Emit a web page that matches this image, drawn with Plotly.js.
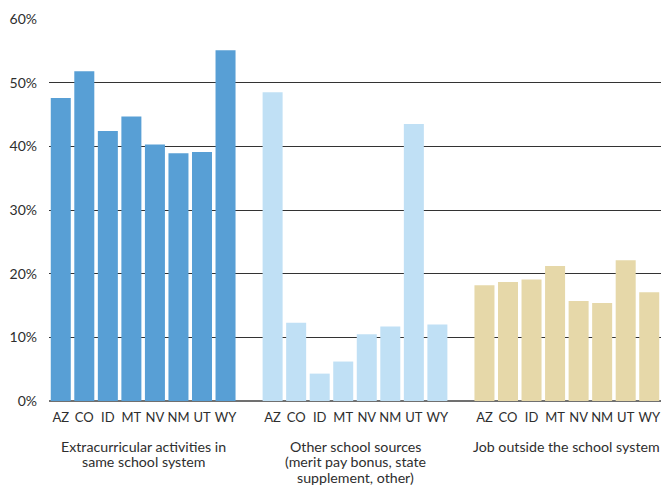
<!DOCTYPE html>
<html>
<head>
<meta charset="utf-8">
<script src="https://cdn.plot.ly/plotly-3.0.1.min.js"></script>
<style>html,body{margin:0;padding:0;background:#fff;}#chart{width:666px;height:485px;}</style>
</head>
<body>
<div id="chart"></div>
<script>
const states = ['AZ', 'CO', 'ID', 'MT', 'NV', 'NM', 'UT', 'WY'];
const groupLabels = [
  'Extracurricular activities in<br>same school system',
  'Other school sources<br>(merit pay bonus, state<br>supplement, other)',
  'Job outside the school system'
];
const extracurricular = [47.6, 51.8, 42.4, 44.7, 40.3, 38.9, 39.1, 55.1];
const otherSchool = [48.5, 12.3, 4.3, 6.2, 10.5, 11.7, 43.5, 12.0];
const outsideJob = [18.2, 18.7, 19.1, 21.2, 15.7, 15.4, 22.1, 17.1];
const groupColors = ['#589fd5', '#c0e0f5', '#e6d8a9'];
const yTicks = [0, 10, 20, 30, 40, 50, 60];
const yTickText = yTicks.map(v => v + '%');

const series = [extracurricular, otherSchool, outsideJob];
const slot = (g, i) => g * (states.length + 1) + i;

const traces = series.map((vals, g) => ({
  type: 'bar',
  x: states.map((s, i) => slot(g, i)),
  y: vals,
  marker: { color: groupColors[g] },
  hoverinfo: 'skip',
  showlegend: false
}));

const tickvals = [], ticktext = [];
series.forEach((vals, g) => states.forEach((s, i) => { tickvals.push(slot(g, i)); ticktext.push(s); }));

const font = "Lato, 'Open Sans', sans-serif";
const annotations = [];
groupLabels.forEach((t, g) => {
  t.split('<br>').forEach((line, k) => {
    annotations.push({
      text: line,
      x: slot(g, (states.length - 1) / 2),
      xref: 'x',
      y: 0,
      yref: 'paper',
      yanchor: 'middle',
      xanchor: 'center',
      yshift: -45 - k * 15.8,
      showarrow: false,
      font: { family: font, size: 14.2, color: '#2e2e2e' }
    });
  });
});

const layout = {
  width: 666,
  height: 485,
  margin: { l: 49, r: 5, t: 19, b: 84 },
  paper_bgcolor: '#fff',
  plot_bgcolor: '#fff',
  bargap: 0.15,
  font: { family: font, size: 13, color: '#2e2e2e' },
  xaxis: {
    range: [-0.5, slot(2, states.length - 1) + 0.5],
    tickvals: tickvals,
    ticktext: ticktext,
    showgrid: false,
    zeroline: false,
    showline: false,
    ticks: '',
    ticklabelstandoff: 7,
    tickfont: { family: font, size: 13, color: '#2e2e2e' }
  },
  yaxis: {
    range: [0, 60],
    tickvals: yTicks,
    ticktext: yTickText,
    showgrid: true,
    gridcolor: '#333333',
    gridwidth: 1,
    zeroline: true,
    zerolinecolor: '#707070',
    zerolinewidth: 2,
    showline: false,
    ticks: '',
    ticklabelstandoff: 11,
    tickfont: { family: font, size: 14, color: '#2e2e2e' }
  },
  annotations: annotations
};

Plotly.newPlot('chart', traces, layout, { staticPlot: true, displayModeBar: false });
</script>
</body>
</html>
